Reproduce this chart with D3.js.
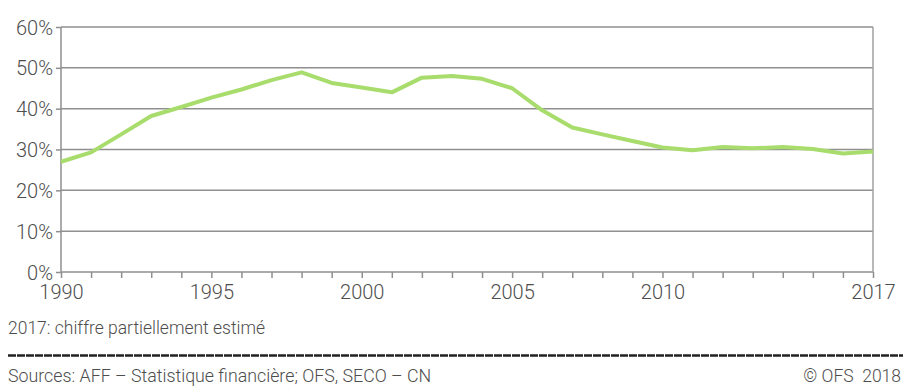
<!DOCTYPE html>
<html>
<head>
<meta charset="utf-8">
<script src="https://cdn.jsdelivr.net/npm/d3@7"></script>
<style>
  body { margin: 0; background: #fff; }
  svg text { font-family: Roboto, "Open Sans", sans-serif; font-weight: 300; fill: #4d4d4d; }
</style>
</head>
<body>
<svg id="chart" width="903" height="390"></svg>
<script>
// === data === //
var years = d3.range(1990, 2018)
var values = [27.0, 29.3, 33.7, 38.2, 40.4, 42.7, 44.7, 47.0, 48.9, 46.3,
  45.2, 44.0, 47.6, 48.0, 47.3, 45.0, 39.6, 35.4, 33.7, 32.1,
  30.5, 29.8, 30.6, 30.3, 30.6, 30.1, 29.0, 29.5]
var yTicks = [0, 10, 20, 30, 40, 50, 60]
var xLabels = [1990, 1995, 2000, 2005, 2010, 2017]

var note = "2017: chiffre partiellement estimé"
var source = "Sources: AFF – Statistique financière; OFS, SECO – CN"
var copyright = "© OFS  2018"

// === set up === //
var svg = d3.select("#chart")

var marginleft = 61
var marginright = 873
var plotTop = 27
var plotBottom = 272

var x = d3.scaleLinear().domain([1990, 2017]).range([marginleft, marginright])
var y = d3.scaleLinear().domain([0, 60]).range([plotBottom, plotTop])

// gridlines
svg.append("g").selectAll("line")
  .data(yTicks)
  .enter().append("line")
  .attr("x1", marginleft).attr("x2", marginright)
  .attr("y1", function(d) { return y(d) }).attr("y2", function(d) { return y(d) })
  .attr("stroke", "#8f8f8f").attr("stroke-width", 1.5)

// left and right vertical lines
svg.append("line")
  .attr("x1", marginleft).attr("x2", marginleft)
  .attr("y1", plotTop).attr("y2", plotBottom)
  .attr("stroke", "#8f8f8f").attr("stroke-width", 1.5)
svg.append("line")
  .attr("x1", marginright).attr("x2", marginright)
  .attr("y1", plotTop).attr("y2", plotBottom)
  .attr("stroke", "#a0a0a0").attr("stroke-width", 1.5)

// y labels + small left ticks
var yAxis = d3.axisLeft(y)
  .tickValues(yTicks)
  .tickSize(5)
  .tickPadding(3)
  .tickFormat(function(d) { return d + "%" })

var gy = svg.append("g").attr("transform", "translate(" + marginleft + ",0)").call(yAxis)
gy.select(".domain").remove()
gy.selectAll(".tick line").attr("stroke", "#8f8f8f").attr("stroke-width", 1.5)
gy.selectAll("text").attr("font-size", 20).attr("dy", "0.35em")

// x ticks every year
var xAxis = d3.axisBottom(x)
  .tickValues(years)
  .tickSize(6)
  .tickPadding(7)
  .tickFormat(function(d) { return xLabels.indexOf(d) >= 0 ? d : "" })

var gx = svg.append("g").attr("transform", "translate(0," + plotBottom + ")").call(xAxis)
gx.select(".domain").remove()
gx.selectAll(".tick line").attr("stroke", "#8f8f8f").attr("stroke-width", 1.5)
gx.selectAll("text").attr("font-size", 20).attr("dy", "0.71em")

// data line
var line = d3.line()
  .x(function(d, i) { return x(years[i]) })
  .y(function(d) { return y(d) })

svg.append("path")
  .datum(values)
  .attr("d", line)
  .attr("fill", "none")
  .attr("stroke", "#a8dc6c")
  .attr("stroke-width", 4)
  .attr("stroke-linejoin", "round")

// footnote
svg.append("text")
  .attr("x", 8).attr("y", 334)
  .attr("font-size", 17.5)
  .text(note)

svg.append("line")
  .attr("x1", 8).attr("x2", 903)
  .attr("y1", 355.5).attr("y2", 355.5)
  .attr("stroke", "#222").attr("stroke-width", 2.5)
  .attr("stroke-dasharray", "8,1")

svg.append("text")
  .attr("x", 8).attr("y", 382)
  .attr("font-size", 17.8)
  .text(source)

svg.append("text")
  .attr("x", 901).attr("y", 382)
  .attr("font-size", 17.5)
  .attr("text-anchor", "end")
  .attr("xml:space", "preserve")
  .text(copyright)
</script>
</body>
</html>
